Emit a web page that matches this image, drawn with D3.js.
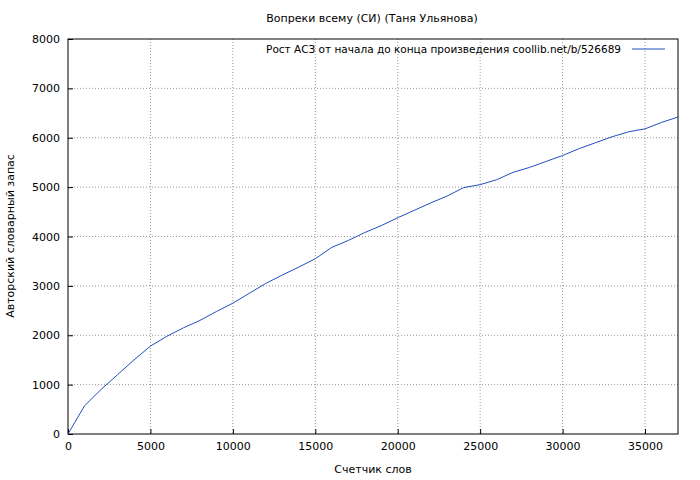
<!DOCTYPE html>
<html><head><meta charset="utf-8">
<script src="https://cdn.jsdelivr.net/npm/d3@7"></script>
<style>body{margin:0;background:#fff}text{font-family:"DejaVu Sans",sans-serif;font-size:11px;fill:#000}</style>
</head><body><svg id="chart" width="700" height="480"></svg>
<script>
var words = [0,1000,2000,3000,4000,5000,6000,7000,8000,9000,10000,11000,12000,13000,14000,15000,16000,17000,18000,19000,20000,21000,22000,23000,24000,25000,26000,27000,28000,29000,30000,31000,32000,33000,34000,35000,36000,37000]
var vocab = [0,570,900,1200,1500,1780,1980,2150,2300,2480,2650,2850,3050,3220,3380,3550,3780,3920,4080,4220,4380,4530,4680,4820,4990,5050,5150,5300,5400,5520,5640,5780,5900,6020,6120,6180,6310,6420]
var xTicks = [0,5000,10000,15000,20000,25000,30000,35000]
var yTicks = [0,1000,2000,3000,4000,5000,6000,7000,8000]

var plotLeft = 68, plotRight = 678, plotTop = 39, plotBottom = 434
var svg = d3.select("#chart")

var x = d3.scaleLinear().domain([0, 37000]).range([plotLeft, plotRight])
var y = d3.scaleLinear().domain([0, 8000]).range([plotBottom, plotTop])

// grid
svg.selectAll(".gx").data(xTicks.slice(1)).enter().append("line")
    .attr("x1", d => x(d)).attr("x2", d => x(d)).attr("y1", plotTop).attr("y2", plotBottom)
    .attr("stroke", "#999").attr("stroke-dasharray", "1,2")
svg.selectAll(".gy").data(yTicks.slice(1, -1)).enter().append("line")
    .attr("y1", d => y(d)).attr("y2", d => y(d)).attr("x1", plotLeft).attr("x2", plotRight)
    .attr("stroke", "#999").attr("stroke-dasharray", "1,2")

svg.append("rect").attr("x", plotLeft).attr("y", plotTop).attr("width", plotRight - plotLeft).attr("height", plotBottom - plotTop)
    .attr("fill", "none").attr("stroke", "#000")

var xa = svg.append("g").attr("transform", "translate(0," + plotBottom + ")")
    .call(d3.axisBottom(x).tickValues(xTicks).tickSize(-5).tickPadding(8).tickFormat(d3.format("d")))
var ya = svg.append("g").attr("transform", "translate(" + plotLeft + ",0)")
    .call(d3.axisLeft(y).tickValues(yTicks).tickSize(-5).tickPadding(8).tickFormat(d3.format("d")))
xa.select(".domain").remove(); ya.select(".domain").remove()
svg.selectAll(".tick text").style("font-family", "DejaVu Sans").style("font-size", "11px")

var line = d3.line().x((d, i) => x(words[i])).y(d => y(d))
svg.append("path").datum(vocab).attr("d", line).attr("fill", "none").attr("stroke", "#1f4fbf").attr("stroke-width", 1)

svg.append("text").attr("x", 372).attr("y", 22).attr("text-anchor", "middle").text("Вопреки всему (СИ) (Таня Ульянова)")
svg.append("text").attr("x", 373).attr("y", 473).attr("text-anchor", "middle").text("Счетчик слов")
svg.append("text").attr("transform", "translate(14,236) rotate(-90)").attr("text-anchor", "middle").text("Авторский словарный запас")

svg.append("text").attr("x", 621).attr("y", 53).attr("text-anchor", "end").style("font-size", "10.5px")
    .text("Рост АСЗ от начала до конца произведения  coollib.net/b/526689")
svg.append("line").attr("x1", 632).attr("x2", 665).attr("y1", 49).attr("y2", 49).attr("stroke", "#1f4fbf")
</script></body></html>
